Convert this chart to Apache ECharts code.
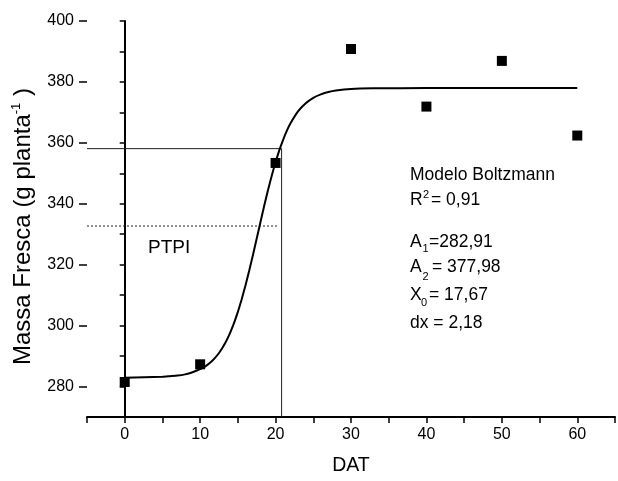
<!DOCTYPE html>
<html>
<head>
<meta charset="utf-8">
<script src="https://cdn.jsdelivr.net/npm/echarts@6/dist/echarts.min.js"></script>
<style>
  html, body { margin: 0; padding: 0; background: #fff; }
  #chartmain { width: 618px; height: 481px; }
</style>
</head>
<body>
<div id="chartmain"></div>
<script>
// pontos observados
var dat = [0, 10, 20, 30, 40, 50, 60];
var massa = [281.5, 287.3, 353.4, 390.8, 371.9, 386.9, 362.4];

// curva ajustada
var curvaX = [0, 5, 6, 7, 8, 9, 10, 10.5, 11, 11.5, 12, 12.5, 13, 13.5, 14, 14.5, 15, 15.5, 16, 16.5, 17, 17.5, 18, 18.5,
              19, 19.5, 20, 20.5, 21, 21.5, 22, 23, 24, 25, 26, 27, 28, 30, 33, 40, 60];
var curvaY = [282.9, 283.2, 283.4, 283.6, 284.0, 284.7, 285.7, 286.3, 287.2, 288.2, 289.5, 291.0, 292.9, 295.1, 297.8,
              300.9, 304.5, 308.6, 313.1, 318.0, 323.2, 328.6, 334.0, 339.4, 344.5, 349.3, 353.7, 357.6, 361.0, 364.0,
              366.5, 370.4, 373.0, 374.8, 375.9, 376.7, 377.2, 377.7, 377.9, 378.0, 378.0];

// linhas do PTPI
var guiaX = [-5, 20.8, 20.8];
var guiaY = [358.1, 358.1, 270];
var pontilhadoX = [-5, 20.3];
var pontilhadoY = [332.7, 332.7];

// marcas dos eixos
var xLabels = [0, 10, 20, 30, 40, 50, 60];
var yLabels = [280, 300, 320, 340, 360, 380, 400];

function pares(xs, ys) {
    var out = [];
    for (var i = 0; i < xs.length; i++) out.push([xs[i], ys[i]]);
    return out;
}

var fonte = 'Liberation Sans, Arial, sans-serif';

// texto solto, y = centro visual da linha
function texto(t, x, y, size) {
    return { type: 'text', x: x, y: y, style: { text: t, fill: '#000', font: size + 'px ' + fonte, verticalAlign: 'middle' } };
}

var myChart = echarts.init(document.getElementById('chartmain'));

var option = {
    backgroundColor: '#fff',
    animation: false,
    grid: { left: 87, right: 3, top: 21, bottom: 60 },
    xAxis: {
        type: 'value',
        min: -5,
        max: 65,
        interval: 5,
        name: 'DAT',
        nameLocation: 'middle',
        nameGap: 39,
        nameTextStyle: { fontSize: 19.5, color: '#000', fontFamily: fonte },
        axisLine: { lineStyle: { color: '#000', width: 2 } },
        axisTick: { length: 6, lineStyle: { color: '#000', width: 1.5 } },
        axisLabel: {
            fontSize: 16, color: '#000', fontFamily: fonte, margin: 10,
            formatter: function (v) { return xLabels.indexOf(v) >= 0 ? String(v) : ''; }
        },
        splitLine: { show: false }
    },
    yAxis: [{
        type: 'value',
        min: 270,
        max: 400,
        interval: 10,
        name: 'Massa Fresca (g planta{sup|-1} )',
        nameLocation: 'middle',
        nameGap: 42,
        nameTextStyle: {
            fontSize: 24, color: '#000', fontFamily: fonte, lineHeight: 26, verticalAlign: 'bottom',
            padding: [0, 15, 0, 0],
            rich: { sup: { fontSize: 13, lineHeight: 13, verticalAlign: 'top', color: '#000', fontFamily: fonte } }
        },
        axisLine: { lineStyle: { color: '#000', width: 2 } },
        axisTick: { length: 5, lineStyle: { color: '#000', width: 1.5 } },
        axisLabel: {
            fontSize: 16, color: '#000', fontFamily: fonte, margin: 13,
            formatter: function (v) { return yLabels.indexOf(v) >= 0 ? String(v) : ''; }
        },
        splitLine: { show: false }
    }, {
        type: 'value',
        position: 'left',
        min: 270,
        max: 400,
        interval: 10,
        axisLine: { show: false },
        axisTick: { length: 8, customValues: yLabels, lineStyle: { color: '#000', width: 1.5 } },
        axisLabel: { show: false },
        splitLine: { show: false }
    }],
    series: [{
        type: 'line',
        data: pares(guiaX, guiaY),
        symbol: 'none',
        lineStyle: { color: '#222', width: 1 },
        z: 1
    }, {
        type: 'line',
        data: pares(pontilhadoX, pontilhadoY),
        symbol: 'none',
        lineStyle: { color: '#222', width: 1, type: [2, 2] },
        z: 1
    }, {
        type: 'line',
        data: pares(curvaX, curvaY),
        symbol: 'none',
        smooth: 0.15,
        lineStyle: { color: '#000', width: 2 },
        z: 2
    }, {
        type: 'scatter',
        data: pares(dat, massa),
        symbol: 'rect',
        symbolSize: 10,
        itemStyle: { color: '#000', opacity: 1 },
        z: 3
    }],
    graphic: [
        texto('PTPI', 148, 248, 19),
        texto('Modelo Boltzmann', 410, 175, 17.5),
        texto('R', 410, 200.5, 17.5),
        texto('2', 423, 195, 11),
        texto('= 0,91', 431, 200.5, 17.5),
        texto('A', 410, 242, 17.5),
        texto('1', 422.5, 249, 11),
        texto('=282,91', 429, 242, 17.5),
        texto('A', 410, 267.5, 17.5),
        texto('2', 422.5, 276.5, 11),
        texto('= 377,98', 432, 267.5, 17.5),
        texto('X', 410, 295.5, 17.5),
        texto('0', 421, 302.5, 11),
        texto('= 17,67', 429, 295.5, 17.5),
        texto('dx = 2,18', 410, 323.5, 17.5)
    ]
};

myChart.setOption(option);
</script>
</body>
</html>
